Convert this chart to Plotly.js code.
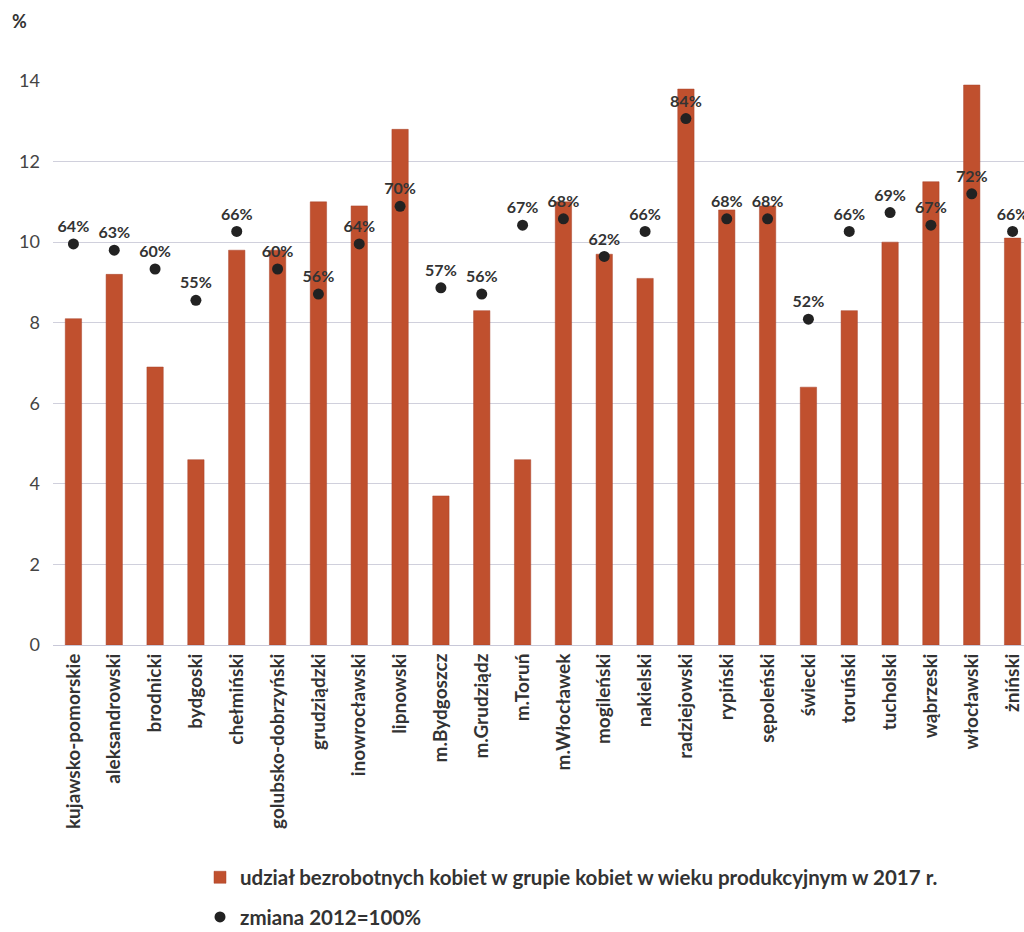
<!DOCTYPE html>
<html>
<head>
<meta charset="utf-8">
<script src="https://cdn.plot.ly/plotly-3.0.1.min.js"></script>
<style>
html,body{margin:0;padding:0;overflow:hidden;background:#fff;width:1024px;height:932px;}
#chart{width:1060px;height:932px;}
</style>
</head>
<body>
<div id="chart"></div>
<script>
const categories = ["kujawsko-pomorskie","aleksandrowski","brodnicki","bydgoski","chełmiński","golubsko-dobrzyński","grudziądzki","inowrocławski","lipnowski","m.Bydgoszcz","m.Grudziądz","m.Toruń","m.Włocławek","mogileński","nakielski","radziejowski","rypiński","sępoleński","świecki","toruński","tucholski","wąbrzeski","włocławski","żniński"];
const share2017 = [8.1,9.2,6.9,4.6,9.8,9.8,11.0,10.9,12.8,3.7,8.3,4.6,11.0,9.7,9.1,13.8,10.8,10.9,6.4,8.3,10.0,11.5,13.9,10.1];
const change2012 = [64,63,60,55,66,60,56,64,70,57,56,67,68,62,66,84,68,68,52,66,69,67,72,66];
const changeLabels = change2012.map(v => v + "%");

const FONT = "Lato, 'Open Sans', sans-serif";

const traces = [
  {
    type: "bar",
    x: categories,
    y: share2017,
    name: "udział bezrobotnych kobiet w grupie kobiet w wieku produkcyjnym w 2017 r.",
    marker: {color: "#c0502e", line: {color: "#a8432a", width: 0.5}},
    legendgroup: "a",
    hoverinfo: "x+y"
  },
  {
    type: "scatter",
    mode: "markers+text",
    x: categories,
    y: change2012,
    yaxis: "y2",
    name: "zmiana 2012=100%",
    text: changeLabels,
    textposition: "top center",
    textfont: {family: FONT, size: 16, color: "#333", weight: "bold"},
    marker: {color: "#222", size: 11},
    legendgroup: "b",
    cliponaxis: false
  }
];

const layout = {
  width: 1060,
  height: 932,
  margin: {l: 53, r: 27, t: 81, b: 287},
  paper_bgcolor: "#fff",
  plot_bgcolor: "#fff",
  font: {family: FONT, color: "#333"},
  bargap: 0.6,
  showlegend: true,
  legend: {
    x: 0.15, xanchor: "left",
    yref: "container", y: 0.08, yanchor: "top",
    orientation: "v",
    tracegroupgap: 10,
    font: {family: FONT, size: 20.5, color: "#333", weight: "bold"},
    itemwidth: 30
  },
  xaxis: {
    type: "category",
    range: [-0.5, 23.5],
    tickangle: -90,
    tickfont: {family: FONT, size: 19, color: "#333", weight: "bold"},
    showgrid: false,
    showline: true,
    linecolor: "#c8c8d8",
    linewidth: 1,
    ticks: "",
    automargin: false
  },
  yaxis: {
    range: [0, 14],
    dtick: 2,
    tickfont: {family: FONT, size: 18, color: "#444"},
    gridcolor: "#d0d0dc",
    gridwidth: 1,
    zeroline: false,
    showline: false,
    ticks: "",
    ticklabelstandoff: 12,
    automargin: false
  },
  yaxis2: {
    overlaying: "y",
    range: [0, 90],
    visible: false,
    showgrid: false
  },
  annotations: [
    {text: "%", xref: "paper", yref: "paper", x: -0.044, y: 1.107, xanchor: "left", yanchor: "middle",
     showarrow: false, font: {family: FONT, size: 18, color: "#333", weight: "bold"}}
  ]
};

Plotly.newPlot("chart", traces, layout, {displayModeBar: false, staticPlot: true});
</script>
</body>
</html>
